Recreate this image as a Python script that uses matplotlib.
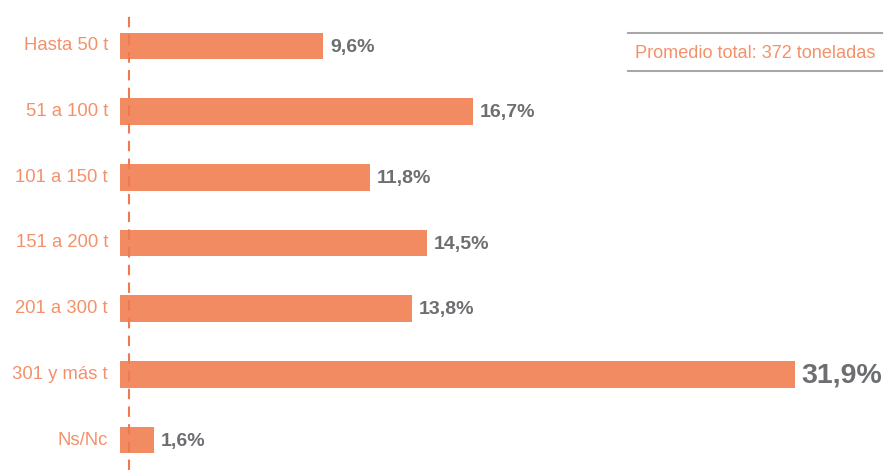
import matplotlib.pyplot as plt

# data
categories = ["Hasta 50 t", "51 a 100 t", "101 a 150 t", "151 a 200 t",
              "201 a 300 t", "301 y más t", "Ns/Nc"]
values = [9.6, 16.7, 11.8, 14.5, 13.8, 31.9, 1.6]
value_labels = ["9,6%", "16,7%", "11,8%", "14,5%", "13,8%", "31,9%", "1,6%"]
avg_text = "Promedio total: 372 toneladas"

bar_color = "#F28A62"
label_color = "#F4916A"
value_color = "#6D6E71"
rule_color = "#A7A7A7"

plt.rcParams["font.family"] = ["Liberation Sans", "DejaVu Sans"]

W, H = 890, 470
fig = plt.figure(figsize=(W / 100, H / 100), dpi=100)
ax = fig.add_axes([120 / W, 0, 770 / W, 1])
px_per_pct = 21.15
ax.set_xlim(0, 770 / px_per_pct)
row = 65.67
ax.set_ylim(6 + 30 / row, -46 / row)
ax.axis("off")

ypos = list(range(len(categories)))
ax.barh(ypos, values, height=0.41, color=bar_color, zorder=2)

for y, v, lab, cat in zip(ypos, values, value_labels, categories):
    big = v == max(values)
    ax.text(v + 7 / px_per_pct, y + 0.02, lab, ha="left", va="center",
            fontsize=20.5 if big else 14, fontweight="bold", color=value_color)
    ax.annotate(cat, xy=(0, y), xytext=(-8.6, 0), textcoords="offset points",
                ha="right", va="center", fontsize=13.3, color=label_color,
                annotation_clip=False)

# dashed reference line
x_dash = 9 / px_per_pct
ax.plot([x_dash, x_dash], [6 + 30 / row, -32 / row], color="#EE7A50",
        lw=1.5, ls=(0, (5, 3.5)), zorder=3, clip_on=False)

# average box
fig.add_artist(plt.Line2D([628 / W, 882 / W], [1 - 33 / H, 1 - 33 / H],
                          color=rule_color, lw=1.5))
fig.add_artist(plt.Line2D([628 / W, 882 / W], [1 - 71 / H, 1 - 71 / H],
                          color=rule_color, lw=1.5))
fig.text(755 / W, 1 - 53 / H, avg_text, ha="center", va="center",
         fontsize=13.1, color=label_color)

fig.savefig("out.png", dpi=100)
